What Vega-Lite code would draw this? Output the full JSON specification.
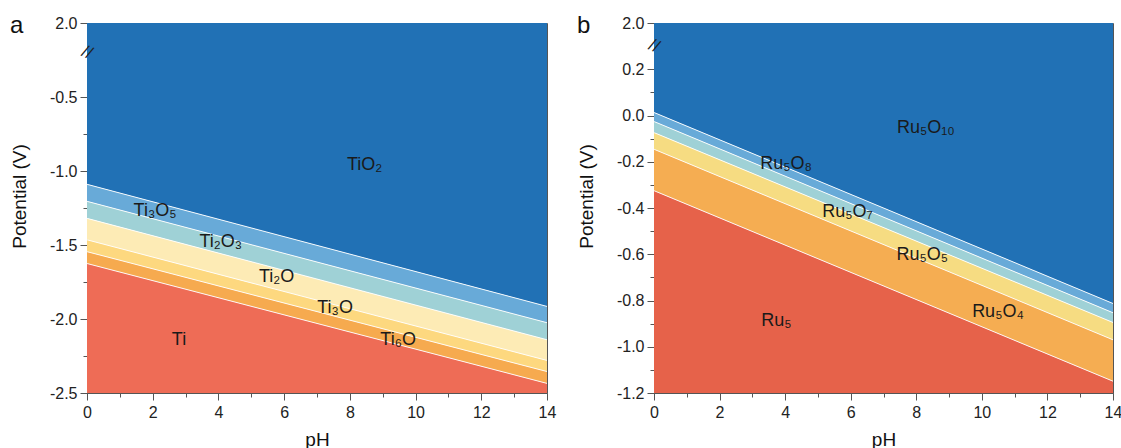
{
  "$schema": "https://vega.github.io/schema/vega-lite/v6.json",
  "background": "white",
  "padding": {"left": 9, "top": 13, "right": 0, "bottom": 0},
  "config": {
    "font": "Liberation Sans",
    "view": {"stroke": "#555555", "strokeWidth": 1},
    "axis": {
      "labelFont": "Liberation Sans",
      "labelFontSize": 16,
      "labelColor": "#222222",
      "labelOverlap": false,
      "tickCount": 100,
      "titleFont": "Liberation Sans",
      "titleFontSize": 19,
      "titleFontWeight": "normal",
      "titleColor": "#111111",
      "domainColor": "#555555",
      "tickColor": "#555555",
      "grid": false
    },
    "title": {"font": "Liberation Sans", "fontSize": 24, "fontWeight": "normal", "color": "#111111"}
  },
  "datasets": {
    "phases": [
      {"panel": "a", "phase": "TiO₂", "pH": 0, "lo": -1.09, "hi": 0},
      {"panel": "a", "phase": "TiO₂", "pH": 14, "lo": -1.915, "hi": 0},
      {"panel": "a", "phase": "Ti₃O₅", "pH": 0, "lo": -1.205, "hi": -1.09},
      {"panel": "a", "phase": "Ti₃O₅", "pH": 14, "lo": -2.025, "hi": -1.915},
      {"panel": "a", "phase": "Ti₂O₃", "pH": 0, "lo": -1.32, "hi": -1.205},
      {"panel": "a", "phase": "Ti₂O₃", "pH": 14, "lo": -2.14, "hi": -2.025},
      {"panel": "a", "phase": "Ti₂O", "pH": 0, "lo": -1.465, "hi": -1.32},
      {"panel": "a", "phase": "Ti₂O", "pH": 14, "lo": -2.28, "hi": -2.14},
      {"panel": "a", "phase": "Ti₃O", "pH": 0, "lo": -1.545, "hi": -1.465},
      {"panel": "a", "phase": "Ti₃O", "pH": 14, "lo": -2.355, "hi": -2.28},
      {"panel": "a", "phase": "Ti₆O", "pH": 0, "lo": -1.625, "hi": -1.545},
      {"panel": "a", "phase": "Ti₆O", "pH": 14, "lo": -2.435, "hi": -2.355},
      {"panel": "a", "phase": "Ti", "pH": 0, "lo": -2.5, "hi": -1.625},
      {"panel": "a", "phase": "Ti", "pH": 14, "lo": -2.5, "hi": -2.435},
      {"panel": "b", "phase": "Ru₅O₁₀", "pH": 0, "lo": 0.013, "hi": 0.4},
      {"panel": "b", "phase": "Ru₅O₁₀", "pH": 14, "lo": -0.813, "hi": 0.4},
      {"panel": "b", "phase": "Ru₅O₈", "pH": 0, "lo": -0.026, "hi": 0.013},
      {"panel": "b", "phase": "Ru₅O₈", "pH": 14, "lo": -0.853, "hi": -0.813},
      {"panel": "b", "phase": "Ru₅O₇", "pH": 0, "lo": -0.074, "hi": -0.026},
      {"panel": "b", "phase": "Ru₅O₇", "pH": 14, "lo": -0.895, "hi": -0.853},
      {"panel": "b", "phase": "Ru₅O₅", "pH": 0, "lo": -0.146, "hi": -0.074},
      {"panel": "b", "phase": "Ru₅O₅", "pH": 14, "lo": -0.97, "hi": -0.895},
      {"panel": "b", "phase": "Ru₅O₄", "pH": 0, "lo": -0.325, "hi": -0.146},
      {"panel": "b", "phase": "Ru₅O₄", "pH": 14, "lo": -1.149, "hi": -0.97},
      {"panel": "b", "phase": "Ru₅", "pH": 0, "lo": -1.2, "hi": -0.325},
      {"panel": "b", "phase": "Ru₅", "pH": 14, "lo": -1.2, "hi": -1.149}
    ],
    "bounds": [
      {"panel": "a", "pH0": 0, "E0": -1.09, "pH1": 14, "E1": -1.915},
      {"panel": "a", "pH0": 0, "E0": -1.205, "pH1": 14, "E1": -2.025},
      {"panel": "a", "pH0": 0, "E0": -1.32, "pH1": 14, "E1": -2.14},
      {"panel": "a", "pH0": 0, "E0": -1.465, "pH1": 14, "E1": -2.28},
      {"panel": "a", "pH0": 0, "E0": -1.545, "pH1": 14, "E1": -2.355},
      {"panel": "a", "pH0": 0, "E0": -1.625, "pH1": 14, "E1": -2.435},
      {"panel": "b", "pH0": 0, "E0": 0.013, "pH1": 14, "E1": -0.813},
      {"panel": "b", "pH0": 0, "E0": -0.026, "pH1": 14, "E1": -0.853},
      {"panel": "b", "pH0": 0, "E0": -0.074, "pH1": 14, "E1": -0.895},
      {"panel": "b", "pH0": 0, "E0": -0.146, "pH1": 14, "E1": -0.97},
      {"panel": "b", "pH0": 0, "E0": -0.325, "pH1": 14, "E1": -1.149}
    ],
    "labels": [
      {"panel": "a", "label": "TiO₂", "pH": 8.45, "V": -0.995},
      {"panel": "a", "label": "Ti₃O₅", "pH": 2.07, "V": -1.304},
      {"panel": "a", "label": "Ti₂O₃", "pH": 4.07, "V": -1.514},
      {"panel": "a", "label": "Ti₂O", "pH": 5.77, "V": -1.75},
      {"panel": "a", "label": "Ti₃O", "pH": 7.55, "V": -1.961},
      {"panel": "a", "label": "Ti₆O", "pH": 9.47, "V": -2.176},
      {"panel": "a", "label": "Ti", "pH": 2.8, "V": -2.176},
      {"panel": "b", "label": "Ru₅O₁₀", "pH": 8.29, "V": -0.077},
      {"panel": "b", "label": "Ru₅O₈", "pH": 4.03, "V": -0.23},
      {"panel": "b", "label": "Ru₅O₇", "pH": 5.9, "V": -0.44},
      {"panel": "b", "label": "Ru₅O₅", "pH": 8.18, "V": -0.627},
      {"panel": "b", "label": "Ru₅O₄", "pH": 10.49, "V": -0.871},
      {"panel": "b", "label": "Ru₅", "pH": 3.73, "V": -0.912}
    ],
    "breaks": [
      {"panel": "a", "pH": 0, "V": -0.2},
      {"panel": "b", "pH": 0, "V": 0.3}
    ]
  },
  "spacing": 107,
  "bounds": "flush",
  "resolve": {"scale": {"x": "independent", "y": "independent", "color": "independent"}},
  "hconcat": [
    {
      "width": 460,
      "height": 370,
      "title": {"text": "a", "anchor": "start", "frame": "group", "offset": 0, "baseline": "alphabetic", "dx": -77, "dy": 42},
      "layer": [
        {
          "data": {"name": "phases"},
          "transform": [{"filter": "datum.panel == 'a'"}],
          "mark": {"type": "area", "interpolate": "linear", "opacity": 1},
          "encoding": {
            "x": {
              "field": "pH", "type": "quantitative",
              "scale": {"domain": [0, 14], "nice": false, "zero": false},
              "axis": {
                "title": "pH",
                "values": [0, 1, 2, 3, 4, 5, 6, 7, 8, 9, 10, 11, 12, 13, 14],
                "labelExpr": "datum.value % 2 == 1 ? '' : format(datum.value, 'd')",
                "tickSize": {"condition": {"test": "datum.value % 2 == 1", "value": 4}, "value": 7},
                "labelPadding": 4,
                "titlePadding": 10,
                "labelFlush": false
              }
            },
            "y": {
              "field": "lo", "type": "quantitative", "stack": null,
              "scale": {"domain": [-2.5, 0], "nice": false, "zero": false},
              "axis": {
                "title": "Potential (V)",
                "titleY": 173,
                "values": [-2.5, -2.25, -2, -1.75, -1.5, -1.25, -1, -0.75, -0.5, 0],
                "labelExpr": "datum.value == 0 ? '2.0' : abs(round(datum.value * 4)) % 2 == 1 ? '' : (datum.value < 0 ? '-' : '') + format(abs(datum.value), '.1f')",
                "tickSize": {"condition": {"test": "abs(round(datum.value * 4)) % 2 == 1", "value": 4}, "value": 7},
                "labelPadding": 3,
                "titlePadding": 20,
                "labelFlush": false
              }
            },
            "y2": {"field": "hi"},
            "color": {
              "field": "phase", "type": "nominal", "legend": null,
              "scale": {
                "domain": ["TiO₂", "Ti₃O₅", "Ti₂O₃", "Ti₂O", "Ti₃O", "Ti₆O", "Ti"],
                "range": ["#2171b5", "#68aad8", "#9fd1d6", "#fdebb5", "#fdd87f", "#f6aa4f", "#ee6c56"]
              }
            }
          }
        },
        {
          "data": {"name": "bounds"},
          "transform": [{"filter": "datum.panel == 'a'"}],
          "mark": {"type": "rule", "color": "white", "strokeWidth": 1, "opacity": 0.9},
          "encoding": {
            "x": {"field": "pH0", "type": "quantitative"},
            "x2": {"field": "pH1"},
            "y": {"field": "E0", "type": "quantitative"},
            "y2": {"field": "E1"}
          }
        },
        {
          "data": {"name": "labels"},
          "transform": [{"filter": "datum.panel == 'a'"}],
          "mark": {"type": "text", "fontSize": 18, "color": "#1a1a1a", "align": "center", "baseline": "alphabetic"},
          "encoding": {
            "x": {"field": "pH", "type": "quantitative"},
            "y": {"field": "V", "type": "quantitative"},
            "text": {"field": "label"}
          }
        },
        {
          "data": {"name": "breaks"},
          "transform": [{"filter": "datum.panel == 'a'"}],
          "mark": {"type": "text", "text": "//", "fontSize": 17, "angle": 25, "color": "#222222", "align": "center", "baseline": "middle", "clip": false},
          "encoding": {
            "x": {"field": "pH", "type": "quantitative"},
            "y": {"field": "V", "type": "quantitative"}
          }
        }
      ]
    },
    {
      "width": 459,
      "height": 370,
      "title": {"text": "b", "anchor": "start", "frame": "group", "offset": 0, "baseline": "alphabetic", "dx": -77, "dy": 42},
      "layer": [
        {
          "data": {"name": "phases"},
          "transform": [{"filter": "datum.panel == 'b'"}],
          "mark": {"type": "area", "interpolate": "linear", "opacity": 1},
          "encoding": {
            "x": {
              "field": "pH", "type": "quantitative",
              "scale": {"domain": [0, 14], "nice": false, "zero": false},
              "axis": {
                "title": "pH",
                "values": [0, 1, 2, 3, 4, 5, 6, 7, 8, 9, 10, 11, 12, 13, 14],
                "labelExpr": "datum.value % 2 == 1 ? '' : format(datum.value, 'd')",
                "tickSize": {"condition": {"test": "datum.value % 2 == 1", "value": 4}, "value": 7},
                "labelPadding": 4,
                "titlePadding": 10,
                "labelFlush": false
              }
            },
            "y": {
              "field": "lo", "type": "quantitative", "stack": null,
              "scale": {"domain": [-1.2, 0.4], "nice": false, "zero": false},
              "axis": {
                "title": "Potential (V)",
                "titleY": 173,
                "values": [-1.2, -1.1, -1, -0.9, -0.8, -0.7, -0.6, -0.5, -0.4, -0.3, -0.2, -0.1, 0, 0.1, 0.2, 0.3999],
                "labelExpr": "abs(datum.value - 0.4) < 0.001 ? '2.0' : abs(round(datum.value * 10)) % 2 == 1 ? '' : (datum.value < -0.001 ? '-' : '') + format(abs(datum.value), '.1f')",
                "tickSize": {"condition": {"test": "abs(round(datum.value * 10)) % 2 == 1", "value": 4}, "value": 7},
                "labelPadding": 3,
                "titlePadding": 20,
                "labelFlush": false
              }
            },
            "y2": {"field": "hi"},
            "color": {
              "field": "phase", "type": "nominal", "legend": null,
              "scale": {
                "domain": ["Ru₅O₁₀", "Ru₅O₈", "Ru₅O₇", "Ru₅O₅", "Ru₅O₄", "Ru₅"],
                "range": ["#2171b5", "#68aad8", "#9fd1d6", "#f6dc82", "#f5ad52", "#e6624a"]
              }
            }
          }
        },
        {
          "data": {"name": "bounds"},
          "transform": [{"filter": "datum.panel == 'b'"}],
          "mark": {"type": "rule", "color": "white", "strokeWidth": 1, "opacity": 0.9},
          "encoding": {
            "x": {"field": "pH0", "type": "quantitative"},
            "x2": {"field": "pH1"},
            "y": {"field": "E0", "type": "quantitative"},
            "y2": {"field": "E1"}
          }
        },
        {
          "data": {"name": "labels"},
          "transform": [{"filter": "datum.panel == 'b'"}],
          "mark": {"type": "text", "fontSize": 18, "color": "#1a1a1a", "align": "center", "baseline": "alphabetic"},
          "encoding": {
            "x": {"field": "pH", "type": "quantitative"},
            "y": {"field": "V", "type": "quantitative"},
            "text": {"field": "label"}
          }
        },
        {
          "data": {"name": "breaks"},
          "transform": [{"filter": "datum.panel == 'b'"}],
          "mark": {"type": "text", "text": "//", "fontSize": 17, "angle": 25, "color": "#222222", "align": "center", "baseline": "middle", "clip": false},
          "encoding": {
            "x": {"field": "pH", "type": "quantitative"},
            "y": {"field": "V", "type": "quantitative"}
          }
        }
      ]
    }
  ]
}
